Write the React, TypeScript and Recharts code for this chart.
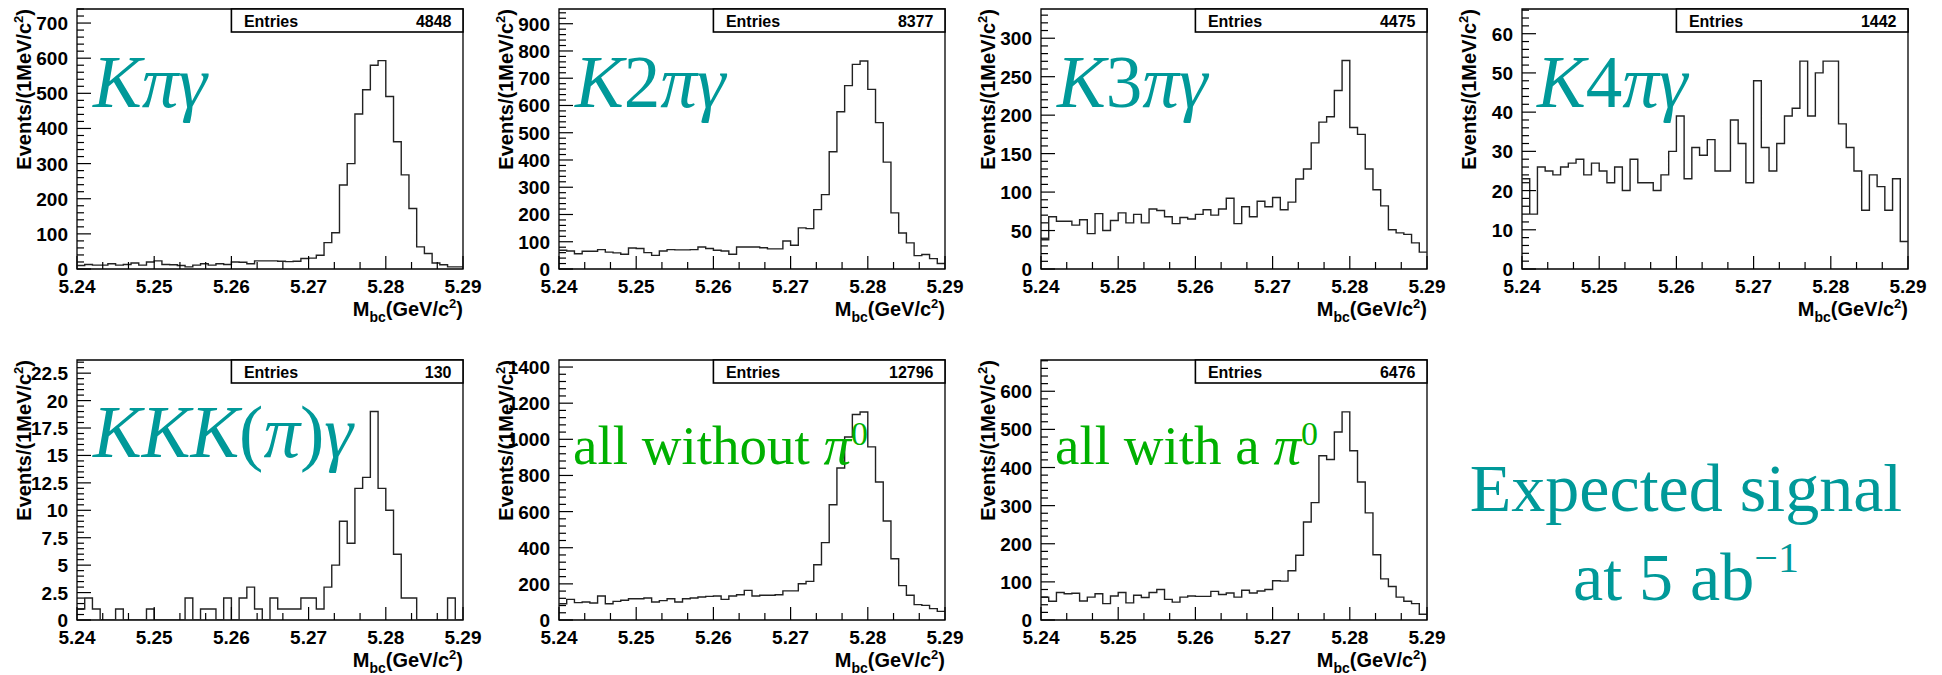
import React from 'react';
import { LineChart, Line, XAxis, YAxis, ReferenceArea } from 'recharts';

// Mbc distributions, 1 MeV bins from 5.24 to 5.29 GeV/c^2
const BIN_START = 5.24;
const BIN_WIDTH = 0.001;
const X_MAJOR = [5.24, 5.25, 5.26, 5.27, 5.28, 5.29];

const kPiGamma = [
  10, 13, 11, 11, 15, 11, 13, 17, 11, 20,
  23, 13, 12, 10, 6, 11, 15, 11, 15, 13,
  20, 19, 15, 23, 23, 23, 22, 21, 22, 30,
  31, 39, 75, 103, 239, 300, 441, 510, 580, 593,
  491, 362, 268, 172, 63, 44, 17, 12, 6, 6,
];
const k2PiGamma = [
  69, 66, 56, 65, 65, 71, 62, 59, 54, 77,
  75, 60, 50, 66, 71, 70, 70, 71, 81, 75,
  69, 66, 54, 81, 81, 81, 78, 74, 74, 103,
  87, 151, 148, 218, 273, 430, 577, 673, 751, 763,
  659, 537, 392, 206, 132, 96, 49, 53, 38, 20,
];
const k3PiGamma = [
  38, 68, 62, 62, 57, 64, 46, 72, 50, 63,
  73, 60, 71, 60, 78, 76, 68, 59, 67, 65,
  71, 77, 70, 78, 92, 59, 81, 68, 88, 81,
  93, 77, 87, 117, 130, 164, 191, 198, 232, 271,
  184, 175, 130, 103, 82, 51, 47, 45, 34, 22,
];
const k4PiGamma = [
  23, 14, 26, 25, 24, 26, 27, 28, 24, 27,
  25, 22, 26, 20, 28, 22, 22, 20, 24, 30,
  39, 23, 31, 29, 33, 25, 25, 38, 32, 22,
  48, 31, 25, 32, 39, 41, 53, 39, 50, 53,
  53, 37, 31, 25, 15, 24, 21, 15, 23, 7,
];
const kkkPiGamma = [
  1, 2, 1, 0, 0, 1, 0, 0, 0, 1,
  0, 0, 0, 0, 2, 0, 1, 1, 0, 2,
  0, 2, 3, 1, 0, 2, 1, 1, 1, 2,
  2, 1, 3, 5, 9, 7, 12, 13, 19, 12,
  10, 6, 2, 2, 0, 0, 0, 0, 2, 0,
];
const allNoPi0 = [
  90, 114, 96, 100, 94, 133, 90, 103, 109, 118,
  118, 122, 100, 107, 118, 100, 118, 122, 127, 131,
  133, 114, 133, 140, 164, 133, 137, 137, 140, 161,
  161, 201, 214, 306, 428, 638, 841, 1013, 1137, 1151,
  958, 764, 548, 339, 190, 137, 85, 81, 63, 48,
];
const allWithPi0 = [
  60, 49, 72, 69, 70, 50, 60, 69, 43, 63,
  72, 45, 65, 59, 72, 80, 54, 47, 60, 63,
  62, 62, 75, 67, 71, 60, 78, 71, 76, 80,
  103, 102, 129, 170, 257, 308, 431, 421, 493, 546,
  444, 362, 281, 171, 108, 88, 60, 49, 43, 15,
];

const entries = [4848, 8377, 4475, 1442, 130, 12796, 6476];
const yMax = [740, 954, 338, 66.3, 23.7, 1439, 682];
const yMajor = [
  [0, 100, 200, 300, 400, 500, 600, 700],
  [0, 100, 200, 300, 400, 500, 600, 700, 800, 900],
  [0, 50, 100, 150, 200, 250, 300],
  [0, 10, 20, 30, 40, 50, 60],
  [0, 2.5, 5, 7.5, 10, 12.5, 15, 17.5, 20, 22.5],
  [0, 200, 400, 600, 800, 1000, 1200, 1400],
  [0, 100, 200, 300, 400, 500, 600],
];
const yMinorStep = [20, 20, 10, 2, 0.5, 40, 20];
const series = [kPiGamma, k2PiGamma, k3PiGamma, k4PiGamma, kkkPiGamma, allNoPi0, allWithPi0];

// plot-frame positions on the page (left, top)
const PANEL_POS: [number, number][] = [
  [77, 9], [559, 9], [1041, 9], [1522, 9],
  [77, 360], [559, 360], [1041, 360],
];
const PW = 386;
const PH = 260;
const LEFT = 77;
const TOP = 2;
const RIGHT = 25;
const XAXIS_H = 60;

const SANS = '"Liberation Sans", Arial, Helvetica, sans-serif';
const SERIF = '"Liberation Serif", "Times New Roman", serif';
const TEAL = '#009999';
const GREEN = '#00b000';

const toRows = (counts: number[]) => {
  const rows = counts.map((c, i) => ({ x: +(BIN_START + i * BIN_WIDTH).toFixed(4), y: c }));
  rows.push({ x: +(BIN_START + counts.length * BIN_WIDTH).toFixed(4), y: counts[counts.length - 1] });
  return rows;
};

const xTicks: number[] = [];
for (let i = 0; i <= 15; i++) xTicks.push(+(X_MAJOR[0] + i * (0.01 / 3)).toFixed(6));

const minorTicks = (max: number, step: number) => {
  const out: number[] = [];
  for (let i = 0; i * step <= max + 1e-9; i++) out.push(+(i * step).toFixed(6));
  return out;
};

const XTick = (props: any) => {
  const { x, payload } = props;
  const v = payload.value as number;
  const major = X_MAJOR.some((m) => Math.abs(m - v) < 1e-6);
  const yb = TOP + PH;
  return (
    <g>
      <line x1={x} x2={x} y1={yb} y2={yb - (major ? 13 : 7)} stroke="#000" strokeWidth={1.2} />
      {major && (
        <text x={x} y={yb + 24} textAnchor="middle" fontSize={19} fontWeight="bold" fontFamily={SANS} fill="#000">
          {v.toFixed(2)}
        </text>
      )}
    </g>
  );
};

const makeYTick = (majors: number[]) => (props: any) => {
  const { y, payload } = props;
  const v = payload.value as number;
  const major = majors.some((m) => Math.abs(m - v) < 1e-6);
  return (
    <g>
      <line x1={LEFT} x2={LEFT + (major ? 14 : 7)} y1={y} y2={y} stroke="#000" strokeWidth={1.2} />
      {major && (
        <text x={LEFT - 9} y={y + 7} textAnchor="end" fontSize={19} fontWeight="bold" fontFamily={SANS} fill="#000">
          {String(v)}
        </text>
      )}
    </g>
  );
};

const YTitle = () => (
  <text
    transform={`translate(31, ${TOP}) rotate(-90)`}
    textAnchor="end"
    fontSize={20}
    fontWeight="bold"
    fontFamily={SANS}
    fill="#000"
  >
    Events/(1MeV/c<tspan dy={-8} fontSize={13}>2</tspan><tspan dy={8}>)</tspan>
  </text>
);

const XTitle = () => (
  <text x={LEFT + PW} y={TOP + PH + 47} textAnchor="end" fontSize={20} fontWeight="bold" fontFamily={SANS} fill="#000">
    M<tspan dy={6} fontSize={14}>bc</tspan>
    <tspan dy={-6}>(GeV/c</tspan>
    <tspan dy={-8} fontSize={13}>2</tspan>
    <tspan dy={8}>)</tspan>
  </text>
);

const Panel = ({ idx }: { idx: number }) => {
  const [pl, pt] = PANEL_POS[idx];
  const max = yMax[idx];
  return (
    <div style={{ position: 'absolute', left: pl - LEFT, top: pt - TOP }}>
      <LineChart
        width={LEFT + PW + RIGHT}
        height={TOP + PH + XAXIS_H}
        data={toRows(series[idx])}
        margin={{ top: TOP, right: RIGHT, bottom: 0, left: 0 }}
      >
        <XAxis
          dataKey="x"
          type="number"
          domain={[5.24, 5.29]}
          ticks={xTicks}
          interval={0}
          tick={XTick}
          tickLine={false}
          axisLine={false}
          height={XAXIS_H}
          label={{ content: XTitle }}
        />
        <YAxis
          type="number"
          domain={[0, max]}
          ticks={minorTicks(max, yMinorStep[idx])}
          interval={0}
          tick={makeYTick(yMajor[idx])}
          tickLine={false}
          axisLine={false}
          width={LEFT}
          allowDataOverflow
          label={{ content: YTitle }}
        />
        <ReferenceArea x1={5.24} x2={5.29} y1={0} y2={max} fill="none" stroke="#000" strokeWidth={1.3} />
        <Line
          type="stepAfter"
          dataKey="y"
          stroke="#222"
          strokeWidth={1.4}
          dot={false}
          isAnimationActive={false}
        />
      </LineChart>
    </div>
  );
};

const StatsBox = ({ idx }: { idx: number }) => {
  const [pl, pt] = PANEL_POS[idx];
  const bx = pl + PW * 0.4;
  const bw = PW * 0.6;
  return (
    <g>
      <rect x={bx} y={pt} width={bw} height={23} fill="#fff" stroke="#000" strokeWidth={1.6} />
      <text x={bx + 12.5} y={pt + 18} fontSize={16} fontWeight="bold" fontFamily={SANS} fill="#000">Entries</text>
      <text x={bx + bw - 11.5} y={pt + 18} textAnchor="end" fontSize={16} fontWeight="bold" fontFamily={SANS} fill="#000">
        {entries[idx]}
      </text>
    </g>
  );
};

export default function App() {
  return (
    <div style={{ position: 'absolute', left: 0, top: 0, width: 1942, height: 675, background: '#fff', overflow: 'hidden' }}>
      {series.map((_, i) => (
        <Panel key={i} idx={i} />
      ))}
      <svg width={1942} height={675} style={{ position: 'absolute', left: 0, top: 0, pointerEvents: 'none' }}>
        {series.map((_, i) => (
          <StatsBox key={i} idx={i} />
        ))}
        <g fontFamily={SERIF} fill={TEAL} fontSize={73}>
          <text x={93} y={107}><tspan fontStyle="italic">Kπγ</tspan></text>
          <text x={575} y={107}><tspan fontStyle="italic">K</tspan>2<tspan fontStyle="italic">πγ</tspan></text>
          <text x={1057} y={107}><tspan fontStyle="italic">K</tspan>3<tspan fontStyle="italic">πγ</tspan></text>
          <text x={1537} y={107}><tspan fontStyle="italic">K</tspan>4<tspan fontStyle="italic">πγ</tspan></text>
          <text x={93} y={457}>
            <tspan fontStyle="italic">KKK</tspan>(<tspan fontStyle="italic">π</tspan>)<tspan fontStyle="italic">γ</tspan>
          </text>
        </g>
        <g fontFamily={SERIF} fill={GREEN} fontSize={55}>
          <text x={573} y={464}>
            all without <tspan fontStyle="italic">π</tspan><tspan dy={-19} fontSize={34}>0</tspan>
          </text>
          <text x={1055} y={464}>
            all with a <tspan fontStyle="italic">π</tspan><tspan dy={-19} fontSize={34}>0</tspan>
          </text>
        </g>
        <g fontFamily={SERIF} fill={TEAL} fontSize={68} textAnchor="middle">
          <text x={1686} y={511}>Expected signal</text>
          <text x={1686} y={600}>
            at 5 ab<tspan dy={-28} fontSize={42}>−1</tspan>
          </text>
        </g>
      </svg>
    </div>
  );
}
